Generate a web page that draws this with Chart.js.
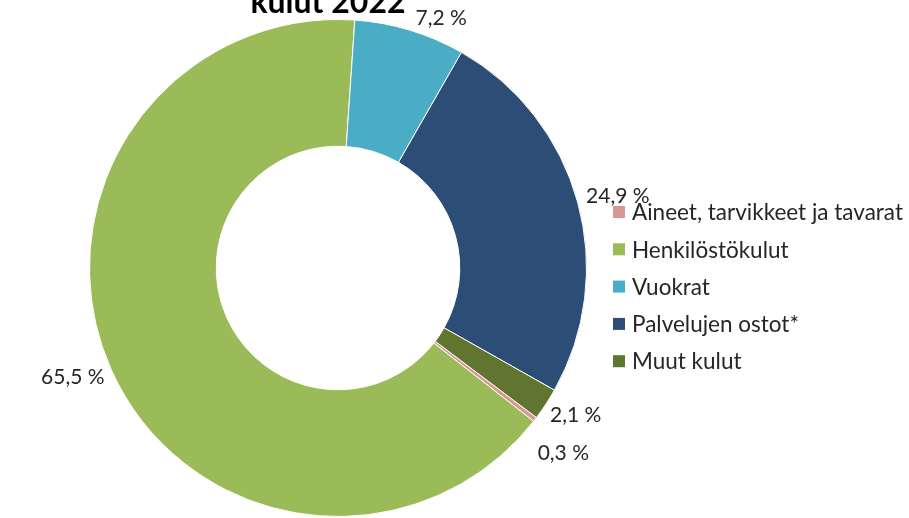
<!DOCTYPE html>
<html>
<head>
<meta charset="utf-8">
<script src="https://cdn.jsdelivr.net/npm/chart.js@4.4.0/dist/chart.umd.min.js"></script>
<style>
  body { margin: 0; background: #fff; }
  canvas { display: block; }
</style>
</head>
<body>
<canvas id="kulutChart" width="909" height="518"></canvas>
<script>
const categories = ['Aineet, tarvikkeet ja tavarat', 'Henkilöstökulut', 'Vuokrat', 'Palvelujen ostot*', 'Muut kulut'];
const shares = [0.3, 65.5, 7.2, 24.9, 2.1];
const sliceColors = ['#D99694', '#9BBB59', '#4BACC6', '#2C4D75', '#5F7530'];
const chartTitle = 'kulut 2022';

const FONT = 'Lato, "Open Sans", sans-serif';
const TEXT = '#262626';
const TITLE_FONT = 'bold 32px ' + FONT;
const TITLE_X = 328, TITLE_Y = 13;

function pct(v) {
    return v.toFixed(1).replace('.', ',') + ' %';
}

// percentage labels just outside each slice
const outsideLabels = {
    id: 'outsideLabels',
    afterDatasetsDraw(chart) {
        const ctx = chart.ctx;
        const arcs = chart.getDatasetMeta(0).data;
        ctx.save();
        ctx.font = TITLE_FONT;
        const titleRight = TITLE_X + ctx.measureText(chartTitle).width / 2;
        ctx.font = '21px ' + FONT;
        ctx.fillStyle = TEXT;
        ctx.textAlign = 'center';
        ctx.textBaseline = 'middle';
        const hh = 11;
        const placed = arcs.map((arc, i) => {
            const mid = (arc.startAngle + arc.endAngle) / 2;
            const cos = Math.cos(mid), sin = Math.sin(mid);
            const text = pct(shares[i]);
            const hw = ctx.measureText(text).width / 2;
            const r = arc.outerRadius + 10;
            const p = { text, hw, x: arc.x + cos * (r + hw), y: arc.y + sin * (r + hh) };
            // keep clear of the title
            if (p.y - hh < TITLE_Y + 4 && p.x - hw < titleRight + 10) {
                p.x = titleRight + 10 + hw;
                p.y = Math.max(p.y, TITLE_Y + 5);
            }
            return p;
        });
        // push overlapping labels apart vertically
        for (let a = 0; a < placed.length; a++) {
            for (let b = 0; b < placed.length; b++) {
                if (a === b) continue;
                const p = placed[a], q = placed[b];
                if (Math.abs(p.x - q.x) < p.hw + q.hw && q.y >= p.y && q.y - p.y < 38) {
                    q.y = p.y + 38;
                }
            }
        }
        placed.forEach(p => ctx.fillText(p.text, p.x, p.y));
        ctx.restore();
    }
};

const titleAndLegend = {
    id: 'titleAndLegend',
    afterDraw(chart) {
        const ctx = chart.ctx;
        ctx.save();
        ctx.fillStyle = '#000';
        ctx.font = TITLE_FONT;
        ctx.textAlign = 'center';
        ctx.textBaseline = 'alphabetic';
        ctx.fillText(chartTitle, TITLE_X, TITLE_Y);

        ctx.font = '22.5px ' + FONT;
        ctx.textAlign = 'left';
        ctx.textBaseline = 'middle';
        categories.forEach((name, i) => {
            const y = 212 + i * 37.3;
            ctx.fillStyle = sliceColors[i];
            ctx.fillRect(613, y - 6, 12, 12);
            ctx.fillStyle = TEXT;
            ctx.fillText(name, 632, y + 1);
        });
        ctx.restore();
    }
};

const ctx = document.getElementById('kulutChart').getContext('2d');

new Chart(ctx, {
    type: 'doughnut',
    data: {
        labels: categories,
        datasets: [{
            data: shares,
            backgroundColor: sliceColors,
            borderColor: '#ffffff',
            borderWidth: 1
        }]
    },
    options: {
        responsive: false,
        animation: false,
        cutout: '49%',
        rotation: 127,
        layout: {
            padding: { left: 89, right: 322, top: 19, bottom: 1 }
        },
        plugins: {
            legend: { display: false },
            tooltip: { enabled: false },
            title: { display: false }
        }
    },
    plugins: [outsideLabels, titleAndLegend]
});
</script>
</body>
</html>
